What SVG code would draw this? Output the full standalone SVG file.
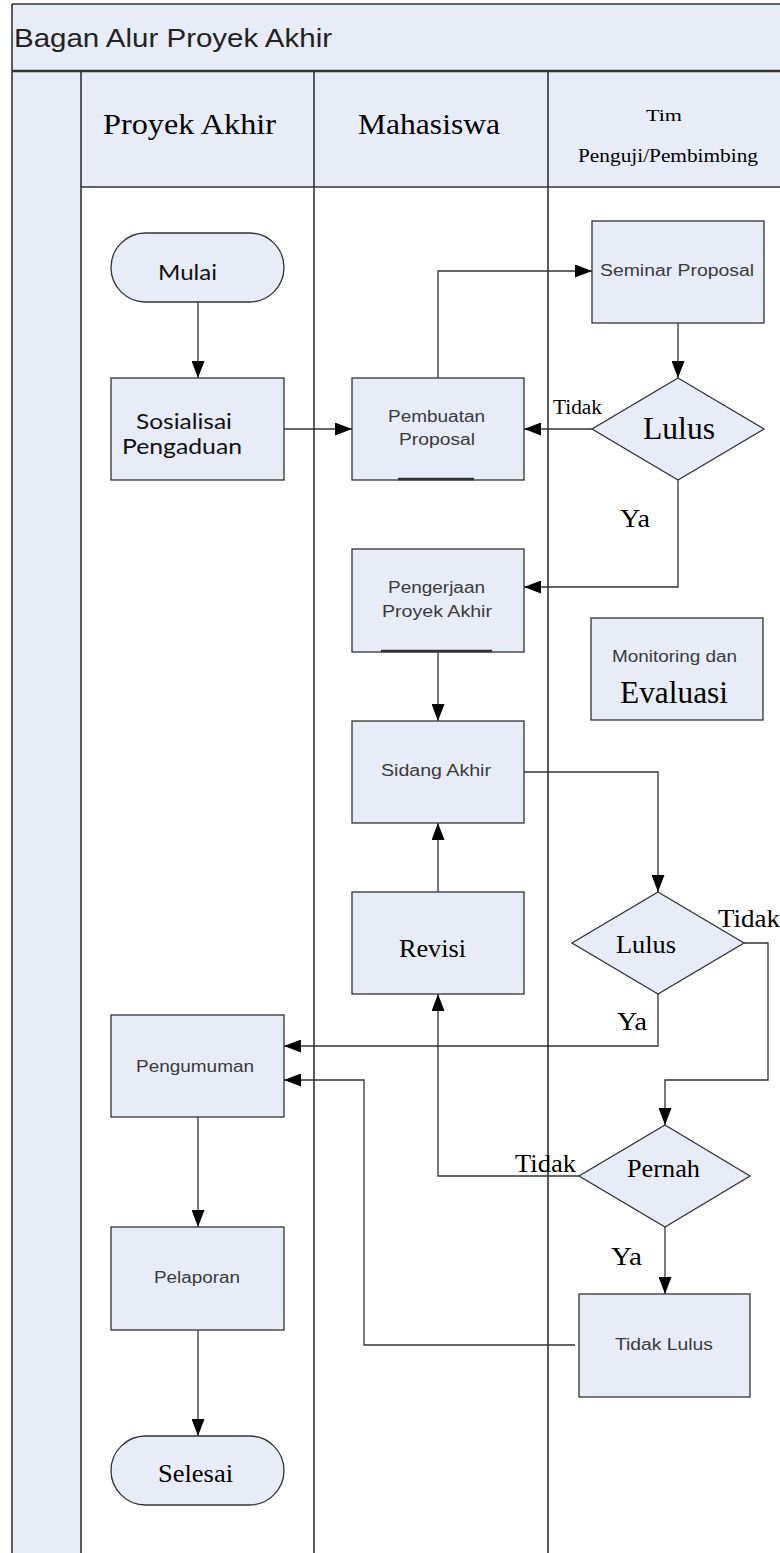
<svg xmlns="http://www.w3.org/2000/svg" width="780" height="1553" viewBox="0 0 780 1553">
<defs>
<marker id="arr" markerUnits="userSpaceOnUse" markerWidth="17" markerHeight="13" viewBox="0 0 17 13" refX="17" refY="6.5" orient="auto">
<path d="M0,0 L17,6.5 L0,13 Z" fill="#000"/>
</marker>
</defs>
<style>
.bg{fill:#e8ecf7;stroke:none}
.ln{stroke:#333;stroke-width:1.6;fill:none}
.nd{fill:#e8ecf7;stroke:#333;stroke-width:1.3}
.cn{stroke:#333;stroke-width:1.3;fill:none;marker-end:url(#arr)}
.ul{stroke:#333;stroke-width:2.5}
.sf{font-family:"Liberation Serif","Times New Roman",serif;fill:#000}
.ss{font-family:"Liberation Sans",Arial,sans-serif;fill:#3a3a3a;font-size:16px}
.cb{font-family:Lato,"Open Sans",sans-serif;fill:#111;font-size:22px}
</style>
<g id="pool">
<rect class="bg" x="12" y="4" width="770" height="67"/>
<rect class="bg" x="12" y="71" width="69" height="1485"/>
<rect class="bg" x="81" y="71" width="700" height="116"/>
<line class="ln" x1="12" y1="4" x2="780" y2="4"/>
<line class="ln" x1="12" y1="71" x2="780" y2="71" style="stroke-width:2.5"/>
<line class="ln" x1="81" y1="187" x2="780" y2="187"/>
<line class="ln" x1="12" y1="4" x2="12" y2="1553"/>
<line class="ln" x1="81" y1="71" x2="81" y2="1553"/>
<line class="ln" x1="314" y1="71" x2="314" y2="1553"/>
<line class="ln" x1="548" y1="71" x2="548" y2="1553"/>
<text x="14" y="47" font-family="Liberation Sans, Arial, sans-serif" font-size="25" fill="#222" textLength="318" lengthAdjust="spacingAndGlyphs">Bagan Alur Proyek Akhir</text>
<text class="sf" x="103" y="134" font-size="29" textLength="173" lengthAdjust="spacingAndGlyphs">Proyek Akhir</text>
<text class="sf" x="358" y="134" font-size="29" textLength="142" lengthAdjust="spacingAndGlyphs">Mahasiswa</text>
<text class="sf" x="646" y="121" font-size="17" textLength="36" lengthAdjust="spacingAndGlyphs">Tim</text>
<text class="sf" x="578" y="162" font-size="18" textLength="180" lengthAdjust="spacingAndGlyphs">Penguji/Pembimbing</text>
</g>
<g id="connectors">
<path class="cn" d="M198,302 V378"/>
<path class="cn" d="M284,429 H352"/>
<path class="cn" d="M438,378 V271 H592"/>
<path class="cn" d="M678,323 V378"/>
<path class="cn" d="M592,429 H524"/>
<path class="cn" d="M678,480 V587 H524"/>
<path class="cn" d="M438,652 V721"/>
<path class="cn" d="M524,772 H658 V892"/>
<path class="cn" d="M658,994 V1046 H284"/>
<path class="cn" d="M744,943 H768 V1080 H665 V1125"/>
<path class="cn" d="M438,892 V823"/>
<path class="cn" d="M579,1176 H438 V994"/>
<path class="cn" d="M665,1227 V1294"/>
<path class="cn" d="M575,1345 H364 V1080 H284"/>
<path class="cn" d="M198,1117 V1227"/>
<path class="cn" d="M198,1330 V1436"/>
<text class="sf" x="553" y="414" font-size="20" textLength="49" lengthAdjust="spacingAndGlyphs">Tidak</text>
<text class="sf" x="620" y="527" font-size="25" textLength="30" lengthAdjust="spacingAndGlyphs">Ya</text>
<text class="sf" x="718" y="927" font-size="26" textLength="62" lengthAdjust="spacingAndGlyphs">Tidak</text>
<text class="sf" x="617" y="1030" font-size="25" textLength="30" lengthAdjust="spacingAndGlyphs">Ya</text>
<text class="sf" x="515" y="1172" font-size="26" textLength="61" lengthAdjust="spacingAndGlyphs">Tidak</text>
<text class="sf" x="611" y="1265" font-size="25" textLength="31" lengthAdjust="spacingAndGlyphs">Ya</text>
</g>
<g id="mulai">
<rect class="nd" x="111" y="233" width="173" height="69" rx="34.5"/>
<text class="cb" x="158" y="280" textLength="59" lengthAdjust="spacingAndGlyphs">Mulai</text>
</g>
<g id="sosialisai">
<rect class="nd" x="111" y="378" width="173" height="102"/>
<text class="cb" x="136" y="429" textLength="96" lengthAdjust="spacingAndGlyphs">Sosialisai</text>
<text class="cb" x="122" y="454" textLength="120" lengthAdjust="spacingAndGlyphs">Pengaduan</text>
</g>
<g id="pembuatan">
<rect class="nd" x="352" y="378" width="172" height="102"/>
<line class="ul" x1="398" y1="479" x2="474" y2="479"/>
<text class="ss" x="388" y="422" textLength="97" lengthAdjust="spacingAndGlyphs">Pembuatan</text>
<text class="ss" x="399" y="445" textLength="76" lengthAdjust="spacingAndGlyphs">Proposal</text>
</g>
<g id="seminar">
<rect class="nd" x="592" y="221" width="172" height="102"/>
<text class="ss" x="600" y="276" textLength="154" lengthAdjust="spacingAndGlyphs">Seminar Proposal</text>
</g>
<g id="lulus1">
<polygon class="nd" points="678,378 764,429 678,480 592,429"/>
<text class="sf" x="643" y="439" font-size="31" textLength="72" lengthAdjust="spacingAndGlyphs">Lulus</text>
</g>
<g id="pengerjaan">
<rect class="nd" x="352" y="549" width="172" height="103"/>
<line class="ul" x1="381" y1="651" x2="492" y2="651"/>
<text class="ss" x="388" y="593" textLength="97" lengthAdjust="spacingAndGlyphs">Pengerjaan</text>
<text class="ss" x="382" y="617" textLength="110" lengthAdjust="spacingAndGlyphs">Proyek Akhir</text>
</g>
<g id="monitoring">
<rect class="nd" x="591" y="618" width="172" height="102"/>
<text class="ss" x="612" y="662" textLength="125" lengthAdjust="spacingAndGlyphs">Monitoring dan</text>
<text class="sf" x="620" y="703" font-size="31" textLength="108" lengthAdjust="spacingAndGlyphs">Evaluasi</text>
</g>
<g id="sidang">
<rect class="nd" x="352" y="721" width="172" height="102"/>
<text class="ss" x="381" y="776" textLength="110" lengthAdjust="spacingAndGlyphs">Sidang Akhir</text>
</g>
<g id="revisi">
<rect class="nd" x="352" y="892" width="172" height="102"/>
<text class="sf" x="399" y="957" font-size="25" textLength="67" lengthAdjust="spacingAndGlyphs">Revisi</text>
</g>
<g id="lulus2">
<polygon class="nd" points="658,892 744,943 658,994 572,943"/>
<text class="sf" x="616" y="953" font-size="26" textLength="60" lengthAdjust="spacingAndGlyphs">Lulus</text>
</g>
<g id="pengumuman">
<rect class="nd" x="111" y="1015" width="173" height="102"/>
<text class="ss" x="136" y="1072" textLength="118" lengthAdjust="spacingAndGlyphs">Pengumuman</text>
</g>
<g id="pernah">
<polygon class="nd" points="665,1125 750,1176 665,1227 579,1176"/>
<text class="sf" x="627" y="1177" font-size="26" textLength="73" lengthAdjust="spacingAndGlyphs">Pernah</text>
</g>
<g id="tidaklulus">
<rect class="nd" x="579" y="1294" width="171" height="103"/>
<text class="ss" x="615" y="1350" textLength="98" lengthAdjust="spacingAndGlyphs">Tidak Lulus</text>
</g>
<g id="pelaporan">
<rect class="nd" x="111" y="1227" width="173" height="103"/>
<text class="ss" x="154" y="1283" textLength="86" lengthAdjust="spacingAndGlyphs">Pelaporan</text>
</g>
<g id="selesai">
<rect class="nd" x="111" y="1436" width="173" height="69" rx="34.5"/>
<text class="sf" x="158" y="1482" font-size="26" textLength="75" lengthAdjust="spacingAndGlyphs">Selesai</text>
</g>
</svg>
